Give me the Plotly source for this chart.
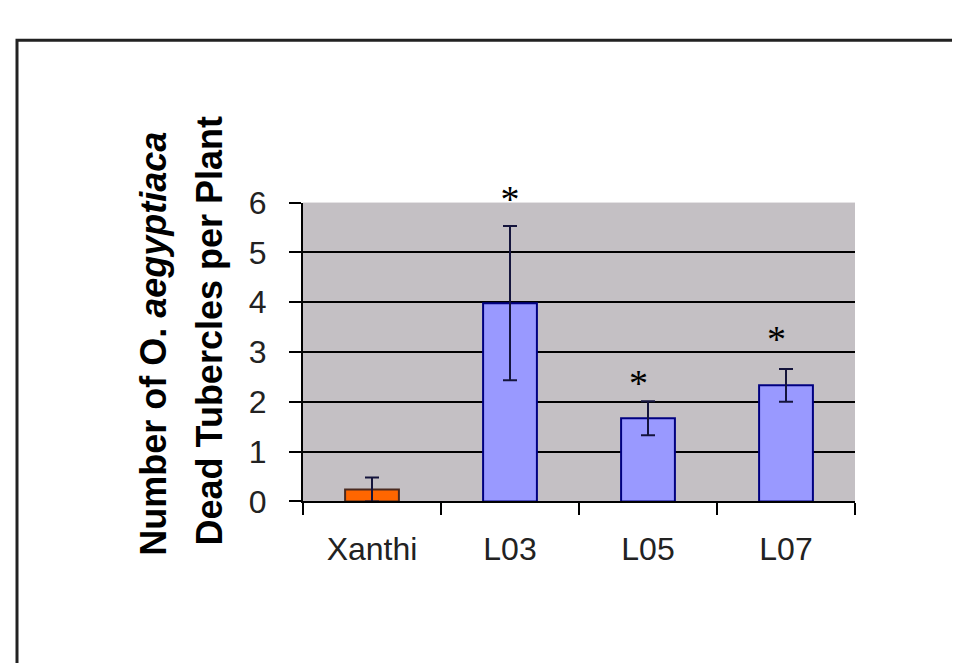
import plotly.graph_objects as go

# ---- data ----
categories = ["Xanthi", "L03", "L05", "L07"]
means = [0.24, 3.98, 1.67, 2.33]
errors = [0.24, 1.55, 0.34, 0.33]
bar_colors = ["#FF6600", "#9999FF", "#9999FF", "#9999FF"]
bar_line_colors = ["#4a2a20", "#000080", "#000080", "#000080"]
sig_categories = ["L03", "L05", "L07"]
sig_y = [6.0, 2.3, 3.2]
sig_text = ["*", "*", "*"]
sig_positions = ["middle center", "middle left", "middle left"]
y_ticks = [0, 1, 2, 3, 4, 5, 6]
grid_ticks = [1, 2, 3, 4, 5]

W, H = 960, 663
x_dom = [295 / W, 847 / W]
y_dom = [1 - 502.7 / H, 1 - 186.7 / H]

fig = go.Figure()
fig.add_trace(go.Bar(
    x=categories, y=means, width=0.39,
    marker=dict(color=bar_colors, line=dict(color=bar_line_colors, width=2)),
    error_y=dict(type="data", array=errors, visible=True,
                 color="#14143c", thickness=2, width=7),
    showlegend=False, hoverinfo="skip",
))
# significance asterisks
fig.add_trace(go.Scatter(
    x=sig_categories, y=sig_y, mode="text", text=sig_text,
    textposition=sig_positions, cliponaxis=False,
    textfont=dict(family="Liberation Serif, Times New Roman", size=38, color="black"),
    showlegend=False, hoverinfo="skip",
))
# helper trace so the grid axis (y2) exists
fig.add_trace(go.Scatter(
    x=categories, y=means, yaxis="y2", mode="markers",
    marker=dict(opacity=0), showlegend=False, hoverinfo="skip",
))

title_font = dict(family="Arial, Liberation Sans", size=36, color="black")
fig.add_annotation(x=146 / W, y=1 - 336 / H, xref="paper", yref="paper",
                   text="<b>Number of O. <i>aegyptiaca</i></b>", textangle=-90,
                   showarrow=False, font=title_font, xanchor="center", yanchor="middle")
fig.add_annotation(x=201 / W, y=1 - 323 / H, xref="paper", yref="paper",
                   text="<b>Dead Tubercles per Plant</b>", textangle=-90,
                   showarrow=False, font=title_font, xanchor="center", yanchor="middle")

# outer frame (its right and bottom edges lie outside the picture)
fig.add_shape(type="rect", xref="paper", yref="paper",
              x0=9 / W, x1=1.02, y0=-0.02, y1=1 - 15 / H,
              line=dict(color="#222222", width=3), layer="above")

tick_font = dict(family="Arial, Liberation Sans", size=32, color="#222222")
fig.update_layout(
    width=W, height=H,
    margin=dict(l=0, r=0, t=0, b=0),
    paper_bgcolor="white",
    plot_bgcolor="#C4C0C4",
    xaxis=dict(domain=x_dom, type="category", showline=True, linecolor="black",
               linewidth=2, ticks="outside", tickson="boundaries", ticklen=12,
               tickwidth=2, tickcolor="black", tickfont=tick_font,
               ticklabelstandoff=18, showgrid=False, fixedrange=True),
    yaxis=dict(domain=y_dom, range=[0, 6], tickvals=y_ticks, showline=True,
               linecolor="black", linewidth=2, ticks="outside", ticklen=12,
               tickwidth=2, tickcolor="black", tickfont=tick_font,
               ticklabelstandoff=16, showgrid=False, zeroline=False),
    yaxis2=dict(domain=y_dom, range=[0, 6], overlaying="y", side="left",
                tickvals=grid_ticks, showgrid=True, gridcolor="black",
                gridwidth=2, showticklabels=False, ticks="", showline=False,
                zeroline=False),
)

fig.write_html("out.html")
